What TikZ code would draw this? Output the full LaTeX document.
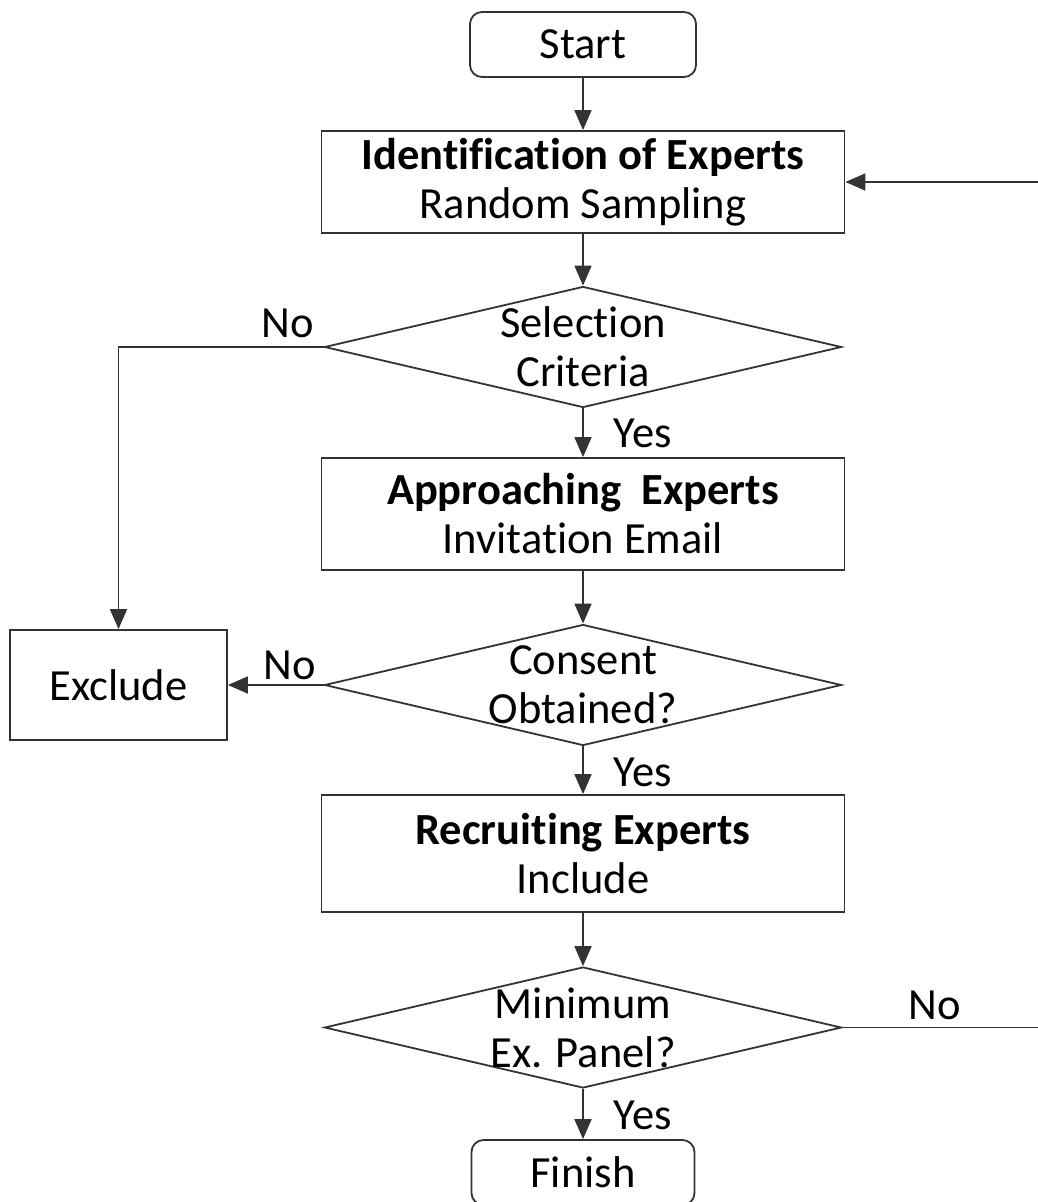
\documentclass[tikz,border=0pt]{standalone}
\usepackage{fontspec}
\setmainfont{Carlito}[Ligatures=NoCommon]
\usetikzlibrary{shapes.geometric,arrows.meta}
\begin{document}
\begin{tikzpicture}[x=1pt,y=-1pt,
  every node/.style={font=\fontsize{44.5}{49}\selectfont},
  line/.style={draw=black!80, line width=1.8pt},
  arr/.style={line, -{Triangle[length=20pt,width=17pt]}},
  terminal/.style={line, rounded corners=12pt, minimum width=226pt, minimum height=65pt, inner sep=0pt},
  process/.style={line, align=center, minimum width=523pt, inner sep=0pt},
  decision/.style={line, diamond, aspect=4.27, minimum width=517pt, minimum height=121pt, inner sep=0pt},
  dtext/.style={align=center, inner sep=0pt},
  lbl/.style={inner sep=0pt}
]
\useasboundingbox (0,0) rectangle (1038,1202);

% main column
\node[terminal] (start) at (583,44.5) {Start};
\node[process, minimum height=102pt] (ident) at (583,182) {\textbf{Identification of Experts}\\Random Sampling};
\node[decision] (sel) at (583,347) {};
\node[dtext] (selT) at (583,347) {Selection\\Criteria};
\node[process, minimum height=112pt] (appr) at (583,514) {\textbf{Approaching\ \ Experts}\\Invitation Email};
\node[decision] (cons) at (583,685) {};
\node[dtext] (consT) at (583,685) {Consent\\Obtained?};
\node[process, minimum height=117pt] (recr) at (583,853.5) {\textbf{Recruiting Experts}\\Include};
\node[decision] (mini) at (583,1027.5) {};
\node[dtext] (miniT) at (583,1028) {Minimum\\Ex. Panel?};
\node[terminal, minimum width=223pt] (fin) at (583,1172.5) {Finish};

% side box
\node[process, minimum width=217pt, minimum height=110pt] (excl) at (118.5,685) {Exclude};

% free ends at the right margin
\coordinate (rtop) at (1038,182);
\coordinate (rbot) at (1038,1027.5);

% connectors
\draw[arr] (start.south) -- (ident.north);
\draw[arr] (rtop) -- (ident.east);
\draw[arr] (ident.south) -- (sel.north);
\draw[arr] (sel.west) -| (excl.north);
\draw[arr] (sel.south) -- (appr.north);
\draw[arr] (appr.south) -- (cons.north);
\draw[arr] (cons.west) -- (excl.east);
\draw[arr] (cons.south) -- (recr.north);
\draw[arr] (recr.south) -- (mini.north);
\draw[line] (mini.east) -- (rbot);
\draw[arr] (mini.south) -- (fin.north);

% branch labels
\node[lbl] (no1) at (288,323) {No};
\node[lbl] (yes1) at (643,433) {Yes};
\node[lbl] (no2) at (290,665) {No};
\node[lbl] (yes2) at (643,772) {Yes};
\node[lbl] (no3) at (935,1005) {No};
\node[lbl] (yes3) at (643,1115) {Yes};
\end{tikzpicture}
\end{document}
